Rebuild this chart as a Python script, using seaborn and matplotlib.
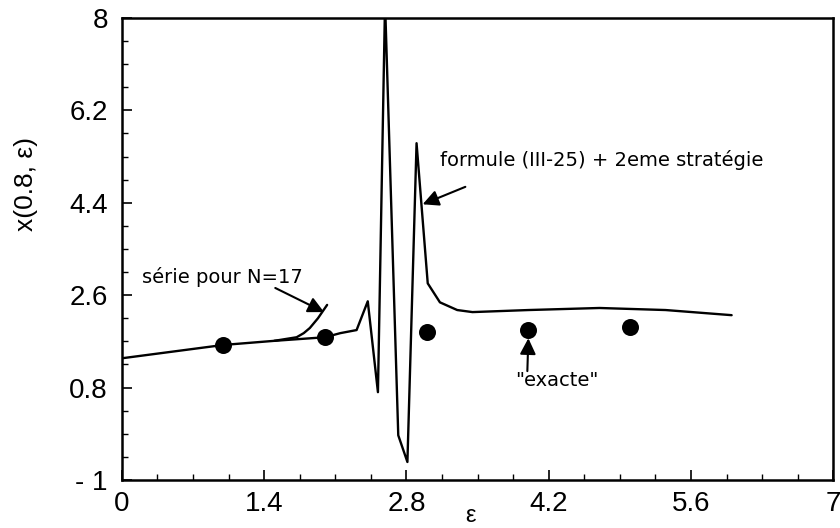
import matplotlib
matplotlib.use("Agg")
import matplotlib.pyplot as plt
import seaborn as sns
import pandas as pd
import numpy as np

# Solution x(0.8, eps) from formula (III-25) with the second strategy
eps_formule = [0.0, 0.5, 1.0, 1.5, 2.0, 2.15, 2.31, 2.42, 2.52, 2.59, 2.72, 2.81,
               2.90, 3.01, 3.13, 3.30, 3.45, 4.0, 4.7, 5.35, 6.0]
x_formule = [1.37, 1.50, 1.63, 1.71, 1.78, 1.86, 1.92, 2.48, 0.71, 8.3, -0.13, -0.65,
             5.56, 2.83, 2.46, 2.31, 2.27, 2.31, 2.35, 2.31, 2.21]

# Truncated series, N = 17
eps_serie = [1.50, 1.72, 1.79, 1.85, 1.93, 2.02]
x_serie = [1.71, 1.78, 1.86, 1.96, 2.15, 2.41]

# Exact values
eps_exacte = [1.0, 2.0, 3.0, 4.0, 5.0]
x_exacte = [1.63, 1.78, 1.88, 1.92, 1.98]

xticks = [0, 1.4, 2.8, 4.2, 5.6, 7]
xticklabels = ["0", "1.4", "2.8", "4.2", "5.6", "7"]
yticks = [-1, 0.8, 2.6, 4.4, 6.2, 8]
yticklabels = ["- 1", "0.8", "2.6", "4.4", "6.2", "8"]

sns.set_style("ticks")
plt.rcParams["font.family"] = ["Liberation Sans", "DejaVu Sans"]
for key in ("text.color", "axes.labelcolor", "xtick.color", "ytick.color",
            "axes.edgecolor"):
    plt.rcParams[key] = "black"

fig = plt.figure(figsize=(8.4, 5.28), dpi=100)
ax = fig.add_axes([0.145, 0.091, 0.847, 0.875])

df_f = pd.DataFrame({"eps": eps_formule, "x": x_formule})
df_s = pd.DataFrame({"eps": eps_serie, "x": x_serie})
df_e = pd.DataFrame({"eps": eps_exacte, "x": x_exacte})

sns.lineplot(data=df_f, x="eps", y="x", sort=False, estimator=None,
             color="black", lw=1.7, ax=ax)
sns.lineplot(data=df_s, x="eps", y="x", sort=False, estimator=None,
             color="black", lw=1.7, ax=ax)
sns.scatterplot(data=df_e, x="eps", y="x", color="black", s=150,
                edgecolor="black", linewidth=0, ax=ax, zorder=5)

ax.set_xlim(0, 7)
ax.set_ylim(-1, 8)
ax.set_xticks(xticks)
ax.set_xticklabels(xticklabels)
ax.set_yticks(yticks)
ax.set_yticklabels(yticklabels)
ax.set_xticks(np.arange(0, 7.01, 0.35), minor=True)
ax.set_yticks(np.arange(-1, 8.01, 0.45), minor=True)
ax.tick_params(which="major", direction="in", length=7, width=1.2,
               labelsize=20, pad=10, colors="black")
ax.tick_params(which="minor", direction="in", length=4, width=1.0,
               colors="black")
ax.tick_params(axis="x", pad=8)

for sp in ax.spines.values():
    sp.set_visible(True)
    sp.set_linewidth(1.8)
    sp.set_color("black")

ax.set_xlabel("ε", fontsize=17)
ax.xaxis.set_label_coords(0.49, -0.055)
ax.set_ylabel("x(0.8, ε)", fontsize=19)
ax.yaxis.set_label_coords(-0.118, 0.64)

ann_font = dict(fontsize=14, family=["DejaVu Sans"], color="black")
arrow = dict(arrowstyle="-|>", color="black", lw=1.5, mutation_scale=24,
             shrinkA=0, shrinkB=0)

ax.annotate("série pour N=17", xy=(0.2, 2.95), va="center", ha="left",
            **ann_font)
ax.annotate("", xy=(1.99, 2.27), xytext=(1.51, 2.74), arrowprops=arrow)

ax.annotate("formule (III-25) + 2eme stratégie", xy=(3.13, 5.23),
            va="center", ha="left", **ann_font)
ax.annotate("", xy=(2.96, 4.37), xytext=(3.38, 4.71), arrowprops=arrow)

ax.annotate('"exacte"', xy=(4.28, 0.94), va="center", ha="center", **ann_font)
ax.annotate("", xy=(4.0, 1.76), xytext=(3.99, 1.12), arrowprops=arrow)

fig.savefig("out.png", dpi=100)
